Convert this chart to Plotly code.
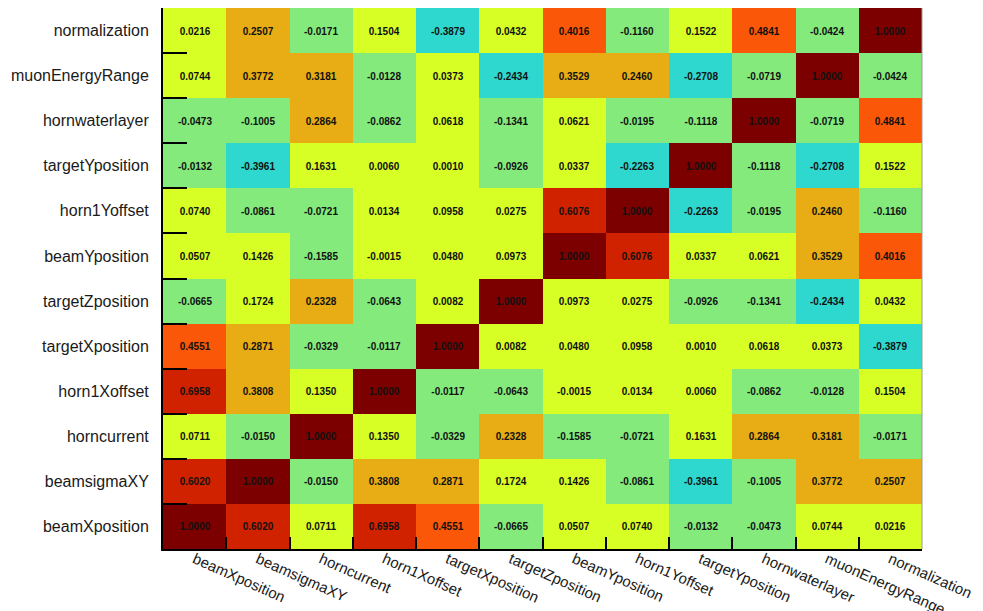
import plotly.graph_objects as go

# parameter names (x order left->right, y order top->bottom)
params_x = ['beamXposition', 'beamsigmaXY', 'horncurrent', 'horn1Xoffset',
            'targetXposition', 'targetZposition', 'beamYposition', 'horn1Yoffset',
            'targetYposition', 'hornwaterlayer', 'muonEnergyRange', 'normalization']
params_y = ['normalization', 'muonEnergyRange', 'hornwaterlayer', 'targetYposition',
            'horn1Yoffset', 'beamYposition', 'targetZposition', 'targetXposition',
            'horn1Xoffset', 'horncurrent', 'beamsigmaXY', 'beamXposition']

# correlation matrix rows, top to bottom
corr = [
    [0.0216, 0.2507, -0.0171, 0.1504, -0.3879, 0.0432, 0.4016, -0.1160, 0.1522, 0.4841, -0.0424, 1.0000],
    [0.0744, 0.3772, 0.3181, -0.0128, 0.0373, -0.2434, 0.3529, 0.2460, -0.2708, -0.0719, 1.0000, -0.0424],
    [-0.0473, -0.1005, 0.2864, -0.0862, 0.0618, -0.1341, 0.0621, -0.0195, -0.1118, 1.0000, -0.0719, 0.4841],
    [-0.0132, -0.3961, 0.1631, 0.0060, 0.0010, -0.0926, 0.0337, -0.2263, 1.0000, -0.1118, -0.2708, 0.1522],
    [0.0740, -0.0861, -0.0721, 0.0134, 0.0958, 0.0275, 0.6076, 1.0000, -0.2263, -0.0195, 0.2460, -0.1160],
    [0.0507, 0.1426, -0.1585, -0.0015, 0.0480, 0.0973, 1.0000, 0.6076, 0.0337, 0.0621, 0.3529, 0.4016],
    [-0.0665, 0.1724, 0.2328, -0.0643, 0.0082, 1.0000, 0.0973, 0.0275, -0.0926, -0.1341, -0.2434, 0.0432],
    [0.4551, 0.2871, -0.0329, -0.0117, 1.0000, 0.0082, 0.0480, 0.0958, 0.0010, 0.0618, 0.0373, -0.3879],
    [0.6958, 0.3808, 0.1350, 1.0000, -0.0117, -0.0643, -0.0015, 0.0134, 0.0060, -0.0862, -0.0128, 0.1504],
    [0.0711, -0.0150, 1.0000, 0.1350, -0.0329, 0.2328, -0.1585, -0.0721, 0.1631, 0.2864, 0.3181, -0.0171],
    [0.6020, 1.0000, -0.0150, 0.3808, 0.2871, 0.1724, 0.1426, -0.0861, -0.3961, -0.1005, 0.3772, 0.2507],
    [1.0000, 0.6020, 0.0711, 0.6958, 0.4551, -0.0665, 0.0507, 0.0740, -0.0132, -0.0473, 0.0744, 0.0216],
]

# stepped palette (ROOT-like contour bands)
zmin, zmax = -0.4, 1.0
edges = [-0.4, -0.19, -0.005, 0.2, 0.39, 0.55, 0.8, 1.0]
band_colors = ['#2ed8ce', '#84ea7c', '#d7ff26', '#e8ac14', '#fa5808', '#d12200', '#7d0000']

colorscale = []
for i, c in enumerate(band_colors):
    a = (edges[i] - zmin) / (zmax - zmin)
    b = (edges[i + 1] - zmin) / (zmax - zmin)
    colorscale.append([a, c])
    colorscale.append([b, c])

cell_text = [[f"{v:.4f}" for v in row] for row in corr]

fig = go.Figure(go.Heatmap(
    z=corr,
    x=params_x,
    y=params_y,
    text=cell_text,
    texttemplate="%{text}",
    textfont=dict(family="Liberation Sans, Arial, sans-serif", size=10, color="#111", weight="bold"),
    colorscale=colorscale,
    zmin=zmin,
    zmax=zmax,
    showscale=False,
    xgap=0, ygap=0,
))

# thin grey frame on the right
fig.add_shape(type='line', xref='paper', yref='paper', x0=1, x1=1, y0=0, y1=1,
              line=dict(color='#999', width=1))

# page body adds an 8px offset, so margins are trimmed to keep the frame in place
fig.update_layout(
    width=983,
    height=603,
    margin=dict(l=155, r=69, t=0, b=62),
    plot_bgcolor='white',
    paper_bgcolor='white',
    font=dict(family="Liberation Sans, Arial, sans-serif", size=16, color='#1a1a1a'),
    xaxis=dict(
        type='category',
        automargin=False,
        tickangle=24,
        tickfont=dict(size=15),
        ticks='inside',
        tickson='boundaries',
        ticklen=12,
        tickwidth=1.5,
        tickcolor='black',
        showline=True,
        linecolor='black',
        linewidth=2,
        showgrid=False,
        zeroline=False,
        ticklabelstandoff=-6,
    ),
    yaxis=dict(
        type='category',
        automargin=False,
        autorange='reversed',
        ticks='inside',
        tickson='boundaries',
        ticklen=24,
        tickwidth=1.5,
        tickcolor='black',
        showline=True,
        linecolor='black',
        linewidth=2,
        showgrid=False,
        zeroline=False,
        ticklabelstandoff=9,
    ),
)

fig.write_html("out.html")
